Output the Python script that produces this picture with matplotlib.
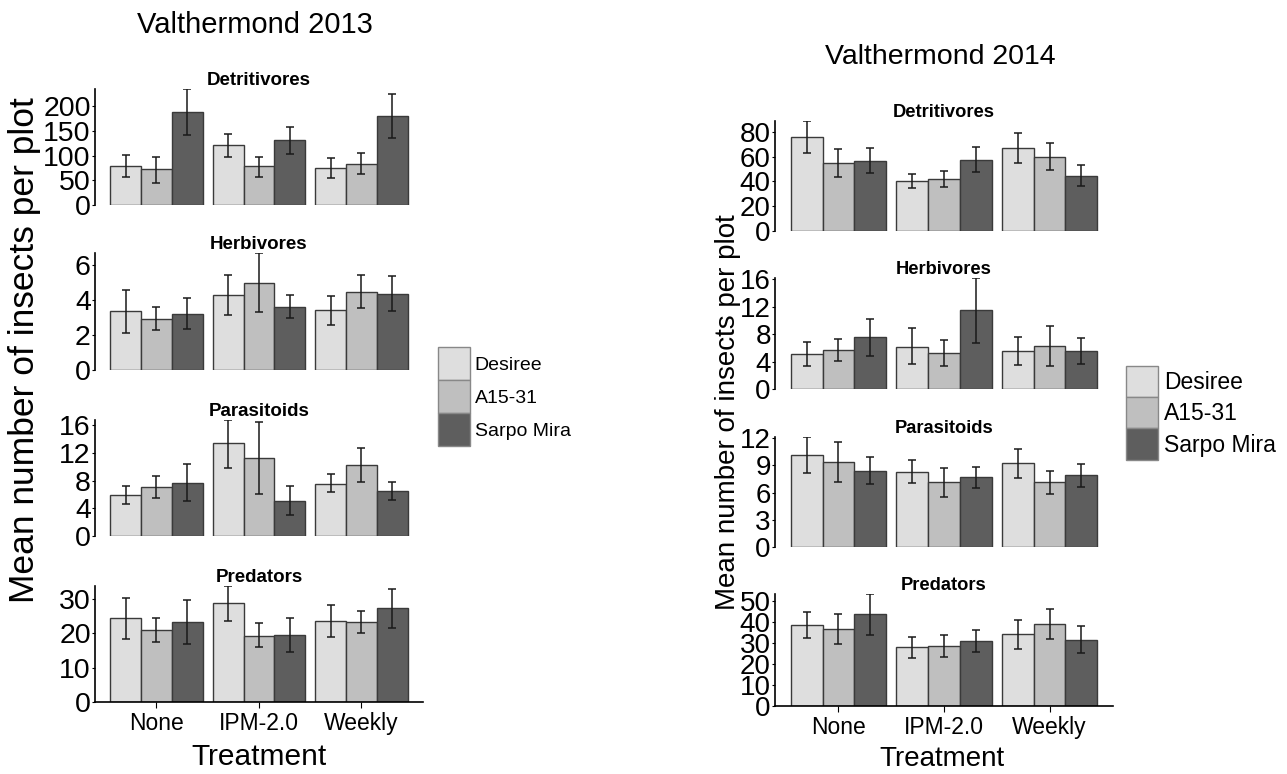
import matplotlib
matplotlib.use("Agg")
import matplotlib.pyplot as plt
from matplotlib.patches import Patch
import numpy as np

plt.rcParams['font.family'] = ['Liberation Sans', 'DejaVu Sans']

treatments = ["None", "IPM-2.0", "Weekly"]
cultivars = ["Desiree", "A15-31", "Sarpo Mira"]
groups = ["Detritivores", "Herbivores", "Parasitoids", "Predators"]

# each list: rows = cultivar (Desiree, A15-31, Sarpo Mira), cols = treatment (None, IPM-2.0, Weekly)
det13_mean = [[79, 121, 75], [72, 79, 84], [188, 131, 180]]
det13_low = [[56, 97, 54], [44, 57, 62], [142, 103, 136]]
det13_high = [[101, 144, 96], [98, 98, 106], [235, 158, 225]]

her13_mean = [[3.37, 4.31, 3.42], [2.92, 5.0, 4.48], [3.23, 3.62, 4.37]]
her13_low = [[2.12, 3.15, 2.58], [2.31, 3.31, 3.52], [2.35, 2.96, 3.38]]
her13_high = [[4.58, 5.46, 4.23], [3.58, 6.69, 5.44], [4.13, 4.27, 5.35]]

par13_mean = [[5.94, 13.4, 7.58], [7.05, 11.26, 10.24], [7.68, 5.12, 6.47]]
par13_low = [[4.64, 9.86, 6.33], [5.46, 6.0, 7.78], [5.02, 3.04, 5.22]]
par13_high = [[7.25, 16.75, 8.9], [8.6, 16.5, 12.75], [10.34, 7.2, 7.73]]

pred13_mean = [[24.5, 28.8, 23.7], [20.9, 19.3, 23.2], [23.4, 19.4, 27.4]]
pred13_low = [[18.5, 23.6, 19.0], [17.4, 15.9, 20.0], [16.9, 14.5, 21.7]]
pred13_high = [[30.4, 33.8, 28.2], [24.4, 22.9, 26.4], [29.7, 24.4, 32.9]]

det14_mean = [[76, 40.5, 66.9], [55.2, 41.9, 60], [56.8, 57.6, 44.8]]
det14_low = [[63.2, 34.9, 54.7], [43.7, 35.5, 49.6], [47.2, 47.7, 36.3]]
det14_high = [[88.8, 45.9, 79.5], [66.1, 48.3, 70.7], [66.9, 67.5, 53.6]]

her14_mean = [[5.1, 6.16, 5.53], [5.68, 5.19, 6.21], [7.52, 11.45, 5.58]]
her14_low = [[3.3, 3.59, 3.5], [4.03, 3.35, 3.4], [4.85, 6.75, 3.69]]
her14_high = [[6.84, 8.83, 7.57], [7.28, 7.09, 9.13], [10.19, 16.17, 7.43]]

par14_mean = [[10.18, 8.31, 9.23], [9.34, 7.18, 7.18], [8.42, 7.66, 7.88]]
par14_low = [[8.17, 7.07, 7.58], [7.14, 5.53, 5.79], [6.92, 6.45, 6.63]]
par14_high = [[12.12, 9.56, 10.77], [11.57, 8.75, 8.35], [9.92, 8.83, 9.19]]

pred14_mean = [[38.8, 28.0, 34.3], [36.7, 28.7, 39.3], [43.9, 31.1, 31.6]]
pred14_low = [[32.7, 22.9, 27.2], [29.5, 23.2, 31.9], [34.0, 26.0, 25.5]]
pred14_high = [[44.7, 33.0, 41.2], [43.8, 34.0, 46.5], [53.5, 36.4, 38.0]]

yticks13 = [[0, 50, 100, 150, 200], [0, 2, 4, 6], [0, 4, 8, 12, 16], [0, 10, 20, 30]]
yticks14 = [[0, 20, 40, 60, 80], [0, 4, 8, 12, 16], [0, 3, 6, 9, 12], [0, 10, 20, 30, 40, 50]]

colors = ["#dedede", "#bfbfbf", "#5e5e5e"]

W, H = 1287, 774
fig = plt.figure(figsize=(W / 100, H / 100), dpi=100)


def box(x0, x1, ytop, ybot):
    return [x0 / W, 1 - ybot / H, (x1 - x0) / W, (ybot - ytop) / H]


def panel(rect, mean, low, high, title, yticks, tick_fs, show_x, x_fs, title_fs):
    ax = fig.add_axes(rect)
    x = np.arange(1, len(treatments) + 1)
    bw = 0.3
    for i in range(len(cultivars)):
        m = np.array(mean[i])
        pos = x + (i - 1) * bw
        ax.bar(pos, m, width=bw, color=colors[i], edgecolor="#3a3a3a", linewidth=1.0, zorder=2)
        ax.errorbar(pos, m, yerr=[m - np.array(low[i]), np.array(high[i]) - m],
                    fmt="none", ecolor="#1a1a1a", elinewidth=1.1, capsize=3.0, capthick=1.1, zorder=3)
    top = max(max(h) for h in high)
    ax.set_ylim(0, top)
    ax.set_xlim(0.4, 3.6)
    ax.set_yticks(yticks)
    ax.tick_params(axis="y", labelsize=tick_fs, length=2, pad=1, width=0.8)
    ax.set_xticks(x)
    if show_x:
        ax.set_xticklabels(treatments, fontsize=x_fs)
        ax.tick_params(axis="x", length=4, width=0.8, pad=3)
        ax.spines["bottom"].set_visible(True)
    else:
        ax.set_xticklabels([])
        ax.tick_params(axis="x", length=0)
        ax.spines["bottom"].set_visible(False)
    for s in ["top", "right"]:
        ax.spines[s].set_visible(False)
    ax.spines["left"].set_linewidth(1.2)
    ax.spines["bottom"].set_linewidth(1.2)
    ax.set_title(title, fontsize=title_fs, fontweight="bold", pad=3)
    ax.patch.set_alpha(0)
    return ax


data13 = [(det13_mean, det13_low, det13_high), (her13_mean, her13_low, her13_high),
          (par13_mean, par13_low, par13_high), (pred13_mean, pred13_low, pred13_high)]
data14 = [(det14_mean, det14_low, det14_high), (her14_mean, her14_low, her14_high),
          (par14_mean, par14_low, par14_high), (pred14_mean, pred14_low, pred14_high)]

rows13 = [(89, 205), (253, 370), (420, 536), (586, 702)]
rows14 = [(121, 231), (278, 389), (437, 547), (594, 706)]

for k in range(4):
    m, lo, hi = data13[k]
    panel(box(95, 423, *rows13[k]), m, lo, hi, groups[k], yticks13[k], 20.5, k == 3, 16.5, 13.5)
    m, lo, hi = data14[k]
    panel(box(775, 1113, *rows14[k]), m, lo, hi, groups[k], yticks14[k], 20, k == 3, 16.5, 13.2)

fig.text(255 / W, 1 - 25 / H, "Valthermond 2013", fontsize=21, ha="center", va="center")
fig.text(940 / W, 1 - 57 / H, "Valthermond 2014", fontsize=20.5, ha="center", va="center")
fig.text(259 / W, 1 - 757 / H, "Treatment", fontsize=21.5, ha="center", va="center")
fig.text(942 / W, 1 - 759 / H, "Treatment", fontsize=20, ha="center", va="center")
fig.text(25 / W, 1 - 350 / H, "Mean number of insects per plot", fontsize=25.5,
         rotation=90, ha="center", va="center")
fig.text(728 / W, 1 - 412 / H, "Mean number of insects per plot", fontsize=20,
         rotation=90, ha="center", va="center")

handles = [Patch(facecolor=c, edgecolor="#888888", linewidth=1.0) for c in colors]
for (lx, ly, fs, hh) in [(438, 347, 14, 2.24), (1126, 366, 16.5, 1.72)]:
    fig.legend(handles, cultivars, loc="upper left", bbox_to_anchor=(lx / W, 1 - ly / H),
               frameon=False, fontsize=fs, handlelength=32 / (fs * 100 / 72), handleheight=hh,
               labelspacing=0.0, handletextpad=0.25, borderpad=0, borderaxespad=0)

fig.savefig("out.png", dpi=100)
